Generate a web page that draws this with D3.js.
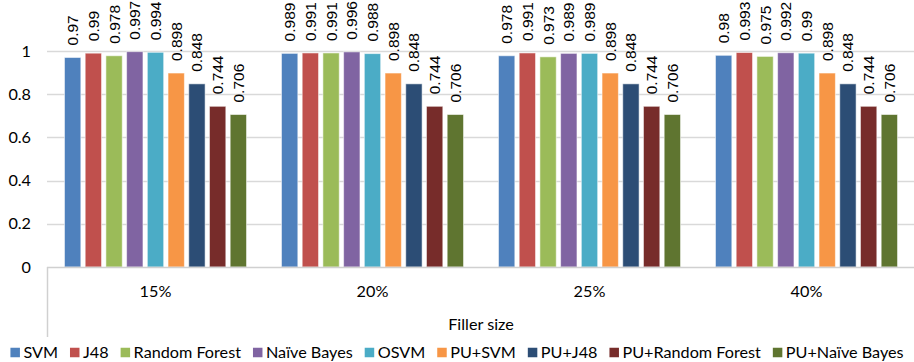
<!DOCTYPE html>
<html>
<head>
<meta charset="utf-8">
<script src="https://cdn.jsdelivr.net/npm/d3@7"></script>
<style>
  html, body { margin: 0; padding: 0; background: #ffffff; }
  svg { display: block; }
</style>
</head>
<body>
<svg id="chart" width="914" height="362"></svg>
<script>
// Filler-size groups on the category axis
const categories = ["15%", "20%", "25%", "40%"];

// Classifier names, one series each
const seriesNames = ["SVM", "J48", "Random Forest", "Naïve Bayes", "OSVM",
                     "PU+SVM", "PU+J48", "PU+Random Forest", "PU+Naïve Bayes"];

// Scores per classifier, in the order of the categories
const svm      = [0.97,  0.989, 0.978, 0.98];
const j48      = [0.99,  0.991, 0.991, 0.993];
const rf       = [0.978, 0.991, 0.973, 0.975];
const nb       = [0.997, 0.996, 0.989, 0.992];
const osvm     = [0.994, 0.988, 0.989, 0.99];
const puSvm    = [0.898, 0.898, 0.898, 0.898];
const puJ48    = [0.848, 0.848, 0.848, 0.848];
const puRf     = [0.744, 0.744, 0.744, 0.744];
const puNb     = [0.706, 0.706, 0.706, 0.706];

const yTicks = [0, 0.2, 0.4, 0.6, 0.8, 1];
const xTitle = "Filler size";

const seriesValues = [svm, j48, rf, nb, osvm, puSvm, puJ48, puRf, puNb];
const colors = ["#4F81BD", "#C0504D", "#9BBB59", "#8064A2", "#4BACC6",
                "#F79646", "#2C4D75", "#772C2A", "#5F7530"];

const svg = d3.select("#chart");
const axisFont = "Lato, 'Open Sans', sans-serif";
const labelFont = "'Liberation Sans', Arial, sans-serif";
const axisSize = 16.2;

const plot = { left: 47, right: 915, top: 8, bottom: 267 };

const x0 = d3.scaleBand()
  .domain(categories)
  .range([plot.left, plot.right])
  .paddingInner(0.161)
  .paddingOuter(0.0805);

const x1 = d3.scaleBand()
  .domain(d3.range(seriesNames.length))
  .range([0, x0.bandwidth()])
  .paddingInner(0.21)
  .paddingOuter(0);

const y = d3.scaleLinear()
  .domain([0, 1.2])
  .range([plot.bottom, plot.bottom - 259.2]);

// Horizontal gridlines
svg.append("g")
  .selectAll("line")
  .data(yTicks.slice(1))
  .join("line")
  .attr("x1", plot.left)
  .attr("x2", plot.right)
  .attr("y1", d => Math.round(y(d)) + 0.5)
  .attr("y2", d => Math.round(y(d)) + 0.5)
  .attr("stroke", "#d9d9d9")
  .attr("stroke-width", 1.3);

// Y axis tick labels
const yAxis = d3.axisLeft(y).tickValues(yTicks).tickSize(0).tickPadding(0)
  .tickFormat(d => d3.format("~g")(d));
svg.append("g")
  .attr("transform", `translate(${plot.left - 16},0)`)
  .call(yAxis)
  .call(g => g.select(".domain").remove())
  .selectAll("text")
  .attr("font-family", axisFont)
  .attr("font-size", axisSize)
  .attr("fill", "#000");

// Bars
const groups = svg.append("g")
  .selectAll("g")
  .data(categories)
  .join("g")
  .attr("transform", d => `translate(${x0(d)},0)`);

groups.selectAll("rect")
  .data((c, ci) => seriesValues.map((vals, si) => ({ si, v: vals[ci] })))
  .join("rect")
  .attr("x", d => x1(d.si))
  .attr("width", x1.bandwidth())
  .attr("y", d => y(d.v))
  .attr("height", d => y(0) - y(d.v))
  .attr("fill", d => colors[d.si])
  .attr("stroke", "#ffffff")
  .attr("stroke-opacity", 0.55)
  .attr("stroke-width", 1);

// Rotated value labels above each bar
groups.selectAll("text")
  .data((c, ci) => seriesValues.map((vals, si) => ({ si, v: vals[ci] })))
  .join("text")
  .attr("transform", d => `translate(${x1(d.si) + x1.bandwidth() / 2 + 5.5},${y(d.v) - 12}) rotate(-90)`)
  .attr("font-family", labelFont)
  .attr("font-size", 15.5)
  .attr("fill", "#000")
  .text(d => String(d.v));

// Category axis line and left edge tick
svg.append("line")
  .attr("x1", plot.left).attr("x2", plot.right)
  .attr("y1", plot.bottom + 0.5).attr("y2", plot.bottom + 0.5)
  .attr("stroke", "#d0d0d0").attr("stroke-width", 1.5);
svg.append("line")
  .attr("x1", plot.left + 0.5).attr("x2", plot.left + 0.5)
  .attr("y1", plot.bottom).attr("y2", 337)
  .attr("stroke", "#d0d0d0").attr("stroke-width", 1.5);

// Category labels
svg.append("g")
  .selectAll("text")
  .data(categories)
  .join("text")
  .attr("x", d => x0(d) + x0.bandwidth() / 2)
  .attr("y", 297)
  .attr("text-anchor", "middle")
  .attr("font-family", axisFont)
  .attr("font-size", axisSize)
  .attr("fill", "#000")
  .text(d => d);

// Axis title
svg.append("text")
  .attr("x", (plot.left + plot.right) / 2)
  .attr("y", 330)
  .attr("text-anchor", "middle")
  .attr("font-family", axisFont)
  .attr("font-size", axisSize)
  .attr("fill", "#000")
  .text(xTitle);

// Legend, laid out left to right and centred
const legend = svg.append("g");
const items = legend.selectAll("g")
  .data(seriesNames)
  .join("g");
items.append("rect")
  .attr("width", 9.5).attr("height", 9.5)
  .attr("y", -4.75)
  .attr("fill", (d, i) => colors[i]);
items.append("text")
  .attr("x", 13)
  .attr("dy", "0.35em")
  .attr("font-family", axisFont)
  .attr("font-size", axisSize)
  .attr("fill", "#000")
  .text(d => d);

let cursor = 0;
const gap = 12;
items.each(function () {
  const w = 13 + d3.select(this).select("text").node().getComputedTextLength();
  d3.select(this).attr("data-x", cursor);
  cursor += w + gap;
});
const totalW = cursor - gap;
const startX = (914 - totalW) / 2;
items.attr("transform", function () {
  return `translate(${startX + (+this.getAttribute("data-x"))},352.5)`;
});
</script>
</body>
</html>
